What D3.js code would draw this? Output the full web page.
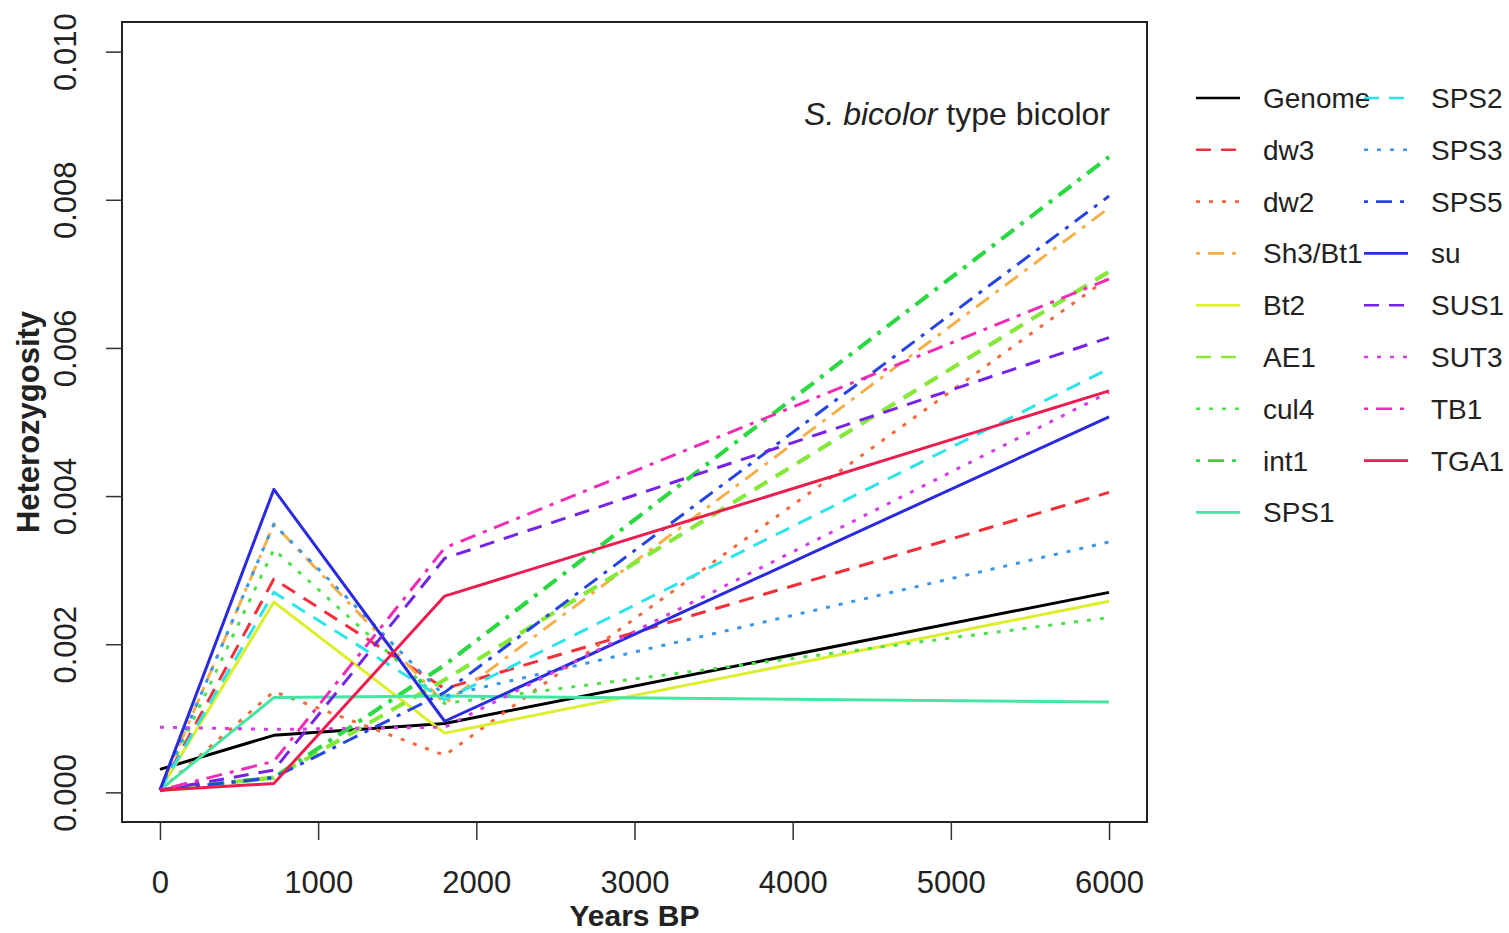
<!DOCTYPE html>
<html>
<head>
<meta charset="utf-8">
<script src="https://d3js.org/d3.v7.min.js"></script>
<style>
  body { margin: 0; background: #fff; }
  text { font-family: "Liberation Sans", Arial, sans-serif; fill: #222; }
</style>
</head>
<body>
<svg id="chart" width="1509" height="933"></svg>
<script>
// time points (years BP)
var years = [0, 720, 1800, 6000];

// series names, in legend order
var genes = ["Genome", "dw3", "dw2", "Sh3/Bt1", "Bt2", "AE1", "cul4", "int1", "SPS1",
             "SPS2", "SPS3", "SPS5", "su", "SUS1", "SUT3", "TB1", "TGA1"];

// heterozygosity per gene at each time point
var Genome = [0.00031, 0.00077, 0.00093, 0.00270];
var dw3    = [0.00003, 0.00288, 0.00140, 0.00405];
var dw2    = [0.00003, 0.00136, 0.00050, 0.00695];
var Sh3Bt1 = [0.00003, 0.00362, 0.00120, 0.00789];
var Bt2    = [0.00003, 0.00257, 0.00080, 0.00258];
var AE1    = [0.00003, 0.00020, 0.00152, 0.00703];
var cul4   = [0.00003, 0.00328, 0.00120, 0.00236];
var int1   = [0.00003, 0.00020, 0.00172, 0.00858];
var SPS1   = [0.00003, 0.00128, 0.00130, 0.00122];
var SPS2   = [0.00003, 0.00270, 0.00125, 0.00572];
var SPS3   = [0.00003, 0.00362, 0.00130, 0.00338];
var SPS5   = [0.00003, 0.00020, 0.00135, 0.00805];
var su     = [0.00003, 0.00409, 0.00096, 0.00507];
var SUS1   = [0.00003, 0.00030, 0.00316, 0.00614];
var SUT3   = [0.00088, 0.00085, 0.00088, 0.00540];
var TB1    = [0.00003, 0.00042, 0.00330, 0.00693];
var TGA1   = [0.00003, 0.00012, 0.00265, 0.00542];

var values = [Genome, dw3, dw2, Sh3Bt1, Bt2, AE1, cul4, int1, SPS1,
              SPS2, SPS3, SPS5, su, SUS1, SUT3, TB1, TGA1];

var colors = ["#000000", "#f0303a", "#f26a3c", "#f6b04a", "#dcee2c", "#86e83a", "#4ee04a",
              "#2ed844", "#44e6a4", "#2ee4ea", "#3a96e8", "#2644e2", "#2a2ade", "#7424e2",
              "#d23ee6", "#f02cb4", "#ec1e50"];

// R lty 1:4 cycling: solid, dashed, dotted, dotdash
var dashes = [null, "15,10", "4,9", "4,8,16,8"];
var widths = [3, 3, 3, 3, 3, 4.2, 3, 4.2, 3, 3, 3, 3, 3, 3, 3, 3, 3];

var xTicks = [0, 1000, 2000, 3000, 4000, 5000, 6000];
var yTicks = [0, 0.002, 0.004, 0.006, 0.008, 0.010];

var svg = d3.select("#chart");
var box = {left: 122, right: 1147, top: 22, bottom: 822};

// R style 4% padding around the data range
var x = d3.scaleLinear().domain([-240, 6240]).range([box.left, box.right]);
var y = d3.scaleLinear().domain([-0.0004, 0.0104]).range([box.bottom, box.top]);

var line = d3.line()
  .x(function(d, i){ return x(years[i]); })
  .y(function(d){ return y(d); });

var plot = svg.append("g");
genes.forEach(function(g, i){
  plot.append("path")
    .attr("d", line(values[i]))
    .attr("fill", "none")
    .attr("stroke", colors[i])
    .attr("stroke-width", widths[i])
    .attr("stroke-dasharray", dashes[i % 4])
    .attr("stroke-linejoin", "round");
});

svg.append("rect")
  .attr("x", box.left).attr("y", box.top)
  .attr("width", box.right - box.left).attr("height", box.bottom - box.top)
  .attr("fill", "none").attr("stroke", "#222").attr("stroke-width", 2);

// x axis
var xAxis = svg.append("g")
  .attr("transform", "translate(0," + box.bottom + ")")
  .call(d3.axisBottom(x).tickValues(xTicks).tickSize(18).tickPadding(31).tickFormat(d3.format("d")));
xAxis.select(".domain").remove();
xAxis.selectAll("line").attr("stroke", "#333").attr("stroke-width", 1.5);
xAxis.selectAll("text").style("font-size", "31px").attr("fill", "#222");

// y axis, labels rotated like R
var yAxis = svg.append("g")
  .attr("transform", "translate(" + box.left + ",0)")
  .call(d3.axisLeft(y).tickValues(yTicks).tickSize(16).tickFormat(d3.format(".3f")));
yAxis.select(".domain").remove();
yAxis.selectAll("line").attr("stroke", "#333").attr("stroke-width", 1.5);
yAxis.selectAll("text")
  .style("font-size", "31px").attr("fill", "#222")
  .attr("text-anchor", "middle")
  .attr("x", null).attr("dy", null)
  .attr("transform", "translate(-46,0) rotate(-90)");

svg.append("text")
  .attr("x", (x(0) + x(6000)) / 2).attr("y", 926)
  .attr("text-anchor", "middle")
  .style("font-size", "30px").style("font-weight", "bold")
  .text("Years BP");

svg.append("text")
  .attr("transform", "translate(39," + ((box.top + box.bottom) / 2) + ") rotate(-90)")
  .attr("text-anchor", "middle")
  .style("font-size", "31px").style("font-weight", "bold")
  .text("Heterozygosity");

var title = svg.append("text")
  .attr("x", 1110).attr("y", 125)
  .attr("text-anchor", "end")
  .style("font-size", "32px");
title.append("tspan").style("font-style", "italic").text("S. bicolor");
title.append("tspan").text(" type bicolor");

// legend, two columns
var legend = svg.append("g");
genes.forEach(function(g, i){
  var col = i < 9 ? 0 : 1;
  var row = i < 9 ? i : i - 9;
  var lx = col === 0 ? 1196 : 1364;
  var ly = 98 + row * 51.8;
  legend.append("line")
    .attr("x1", lx).attr("x2", lx + 44)
    .attr("y1", ly).attr("y2", ly)
    .attr("stroke", colors[i])
    .attr("stroke-width", 2.6)
    .attr("stroke-dasharray", dashes[i % 4]);
  legend.append("text")
    .attr("x", lx + 67).attr("y", ly + 10)
    .style("font-size", "28px")
    .text(g);
});
</script>
</body>
</html>
